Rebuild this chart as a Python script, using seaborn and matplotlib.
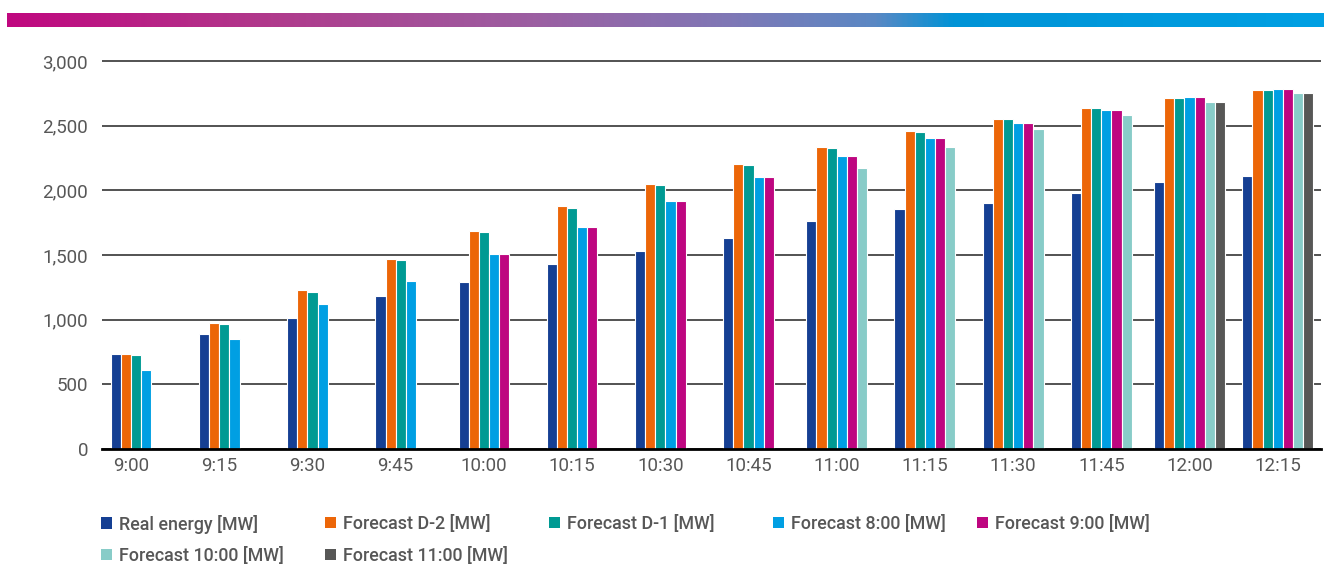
import numpy as np
import pandas as pd
import matplotlib
matplotlib.use("Agg")
import matplotlib.pyplot as plt
from matplotlib.patches import Patch
from matplotlib.colors import LinearSegmentedColormap
from matplotlib.ticker import StrMethodFormatter
import seaborn as sns

# ---- data -----------------------------------------------------------------
times = ["9:00", "9:15", "9:30", "9:45", "10:00", "10:15", "10:30",
         "10:45", "11:00", "11:15", "11:30", "11:45", "12:00", "12:15"]

series = ["Real energy [MW]", "Forecast D-2 [MW]", "Forecast D-1 [MW]",
          "Forecast 8:00 [MW]", "Forecast 9:00 [MW]",
          "Forecast 10:00 [MW]", "Forecast 11:00 [MW]"]

nan = np.nan
real_energy = [732, 887, 1012, 1186, 1290, 1430, 1531,
               1634, 1760, 1858, 1905, 1977, 2066, 2108]
forecast_d2 = [732, 974, 1229, 1467, 1684, 1879, 2052,
               2206, 2337, 2459, 2554, 2639, 2715, 2776]
forecast_d1 = [724, 966, 1214, 1459, 1676, 1863, 2041,
               2199, 2330, 2451, 2554, 2639, 2715, 2776]
forecast_0800 = [611, 850, 1121, 1296, 1508, 1716, 1920,
                 2103, 2268, 2402, 2521, 2619, 2722, 2784]
forecast_0900 = [nan, nan, nan, nan, 1508, 1716, 1920,
                 2103, 2268, 2402, 2521, 2619, 2722, 2784]
forecast_1000 = [nan, nan, nan, nan, nan, nan, nan,
                 nan, 2175, 2333, 2472, 2585, 2681, 2755]
forecast_1100 = [nan, nan, nan, nan, nan, nan, nan,
                 nan, nan, nan, nan, nan, 2681, 2755]

y_ticks = [0, 500, 1000, 1500, 2000, 2500, 3000]

colors = ["#153F93", "#EC6608", "#009A93", "#009FE3",
          "#BE0680", "#88CCC8", "#575756"]

# ---- long-form table; each time slot centres only the bars it has -----------
values = [real_energy, forecast_d2, forecast_d1, forecast_0800,
          forecast_0900, forecast_1000, forecast_1100]
slot = 0.115
rows = []
for i, t in enumerate(times):
    present = [(s, v[i]) for s, v in zip(series, values) if not np.isnan(v[i])]
    n = len(present)
    for k, (s, val) in enumerate(present):
        rows.append({"time": t, "series": s, "value": val,
                     "pos": i + (k - (n - 1) / 2) * slot})
df = pd.DataFrame(rows)

# ---- style --------------------------------------------------------------------
sns.set_style("white")
plt.rcParams["font.family"] = ["Roboto", "DejaVu Sans"]
text_color = "#575757"

W, H = 1324, 570
fig = plt.figure(figsize=(W / 100, H / 100), dpi=100)

# gradient ribbon across the top
ribbon = fig.add_axes([7 / W, 1 - 27 / H, (W - 7) / W, 14 / H])
grad = LinearSegmentedColormap.from_list(
    "ribbon",
    [(0.0, "#C0077F"), (0.2, "#B03A8C"), (0.4, "#9C5FA2"),
     (0.55, "#7F78B6"), (0.66, "#5A88C4"), (0.72, "#0093D6"),
     (1.0, "#00A0E3")])
ribbon.imshow(np.linspace(0, 1, 512)[None, :], aspect="auto", cmap=grad)
ribbon.set_axis_off()

# main chart
ax = fig.add_axes([102 / W, 1 - 449 / H, (1321 - 102) / W, (449 - 57) / H])
palette = dict(zip(series, colors))
sns.barplot(data=df, x="pos", y="value", hue="series", hue_order=series,
            palette=palette, native_scale=True, dodge=False, width=1.0,
            errorbar=None, edgecolor="white", linewidth=0.8, saturation=1,
            legend=False, ax=ax)

ax.set_xlim(-0.329, 13.49)
ax.set_ylim(0, 3030)
ax.set_xticks(range(len(times)), times)
ax.set_yticks(y_ticks)
ax.yaxis.set_major_formatter(StrMethodFormatter("{x:,.0f}"))
ax.set_xlabel("")
ax.set_ylabel("")

ax.set_axisbelow(True)
ax.yaxis.grid(True, color="#444444", linewidth=1.3)
ax.xaxis.grid(False)
for side in ("left", "right", "top"):
    ax.spines[side].set_visible(False)
ax.spines["bottom"].set_color("black")
ax.spines["bottom"].set_linewidth(2)

ax.tick_params(axis="y", length=0, pad=10, labelsize=13.5, labelcolor=text_color)
ax.tick_params(axis="x", length=0, pad=6, labelsize=13.5, labelcolor=text_color)

# legend: one entry per fixed position, two rows
legend_spots = [(101, 524), (325, 524), (549, 524), (773, 524), (977, 524),
                (101, 556), (325, 556)]
for s, c, (x, y) in zip(series, colors, legend_spots):
    fig.legend(handles=[Patch(facecolor=c, edgecolor="none")], labels=[s],
               loc="center left", bbox_to_anchor=(x / W, 1 - y / H),
               frameon=False, borderpad=0, borderaxespad=0,
               handlelength=0.62, handleheight=0.62, handletextpad=0.4,
               prop={"size": 12.9, "weight": "medium"},
               labelcolor=text_color)

fig.savefig("out.png", dpi=100)
